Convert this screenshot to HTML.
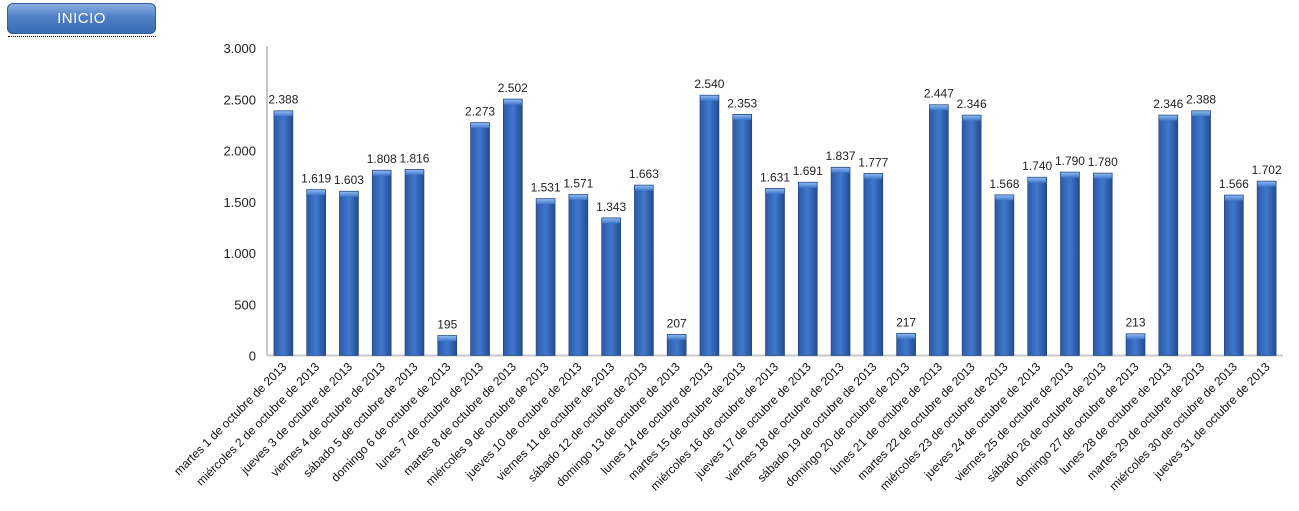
<!DOCTYPE html>
<html><head><meta charset="utf-8"><style>
body{margin:0;width:1299px;height:511px;background:#fff;overflow:hidden;font-family:"Liberation Sans",sans-serif}
#btn{position:absolute;left:7px;top:3px;width:149px;height:31px;border-radius:6px;background:linear-gradient(#8fb4e6,#4f7fc4 45%,#3a6cb4);box-shadow:inset 0 0 0 1px #2f5e9f;color:#fff;font-size:15px;text-align:center;line-height:31px;letter-spacing:.5px}
#btnline{position:absolute;left:8px;top:36px;width:148px;border-top:1px dotted #000}
</style></head><body>
<div id="btn">INICIO</div>
<div id="btnline"></div>
<svg id="c" width="1299" height="511" style="position:absolute;left:0;top:0">
<defs><linearGradient id="g" x1="0" x2="1"><stop offset="0" stop-color="#2c5aa6"/><stop offset=".5" stop-color="#3f78cc"/><stop offset="1" stop-color="#244c90"/></linearGradient>
<linearGradient id="gt" x1="0" y1="0" x2="0" y2="1"><stop offset="0" stop-color="#8fb8ee"/><stop offset="1" stop-color="#3f78cc"/></linearGradient></defs>
</svg>
<script>
const categories=["martes 1 de octubre de 2013","miércoles 2 de octubre de 2013","jueves 3 de octubre de 2013","viernes 4 de octubre de 2013","sábado 5 de octubre de 2013","domingo 6 de octubre de 2013","lunes 7 de octubre de 2013","martes 8 de octubre de 2013","miércoles 9 de octubre de 2013","jueves 10 de octubre de 2013","viernes 11 de octubre de 2013","sábado 12 de octubre de 2013","domingo 13 de octubre de 2013","lunes 14 de octubre de 2013","martes 15 de octubre de 2013","miércoles 16 de octubre de 2013","jueves 17 de octubre de 2013","viernes 18 de octubre de 2013","sábado 19 de octubre de 2013","domingo 20 de octubre de 2013","lunes 21 de octubre de 2013","martes 22 de octubre de 2013","miércoles 23 de octubre de 2013","jueves 24 de octubre de 2013","viernes 25 de octubre de 2013","sábado 26 de octubre de 2013","domingo 27 de octubre de 2013","lunes 28 de octubre de 2013","martes 29 de octubre de 2013","miércoles 30 de octubre de 2013","jueves 31 de octubre de 2013"];
const values=[2388,1619,1603,1808,1816,195,2273,2502,1531,1571,1343,1663,207,2540,2353,1631,1691,1837,1777,217,2447,2346,1568,1740,1790,1780,213,2346,2388,1566,1702];
const yTicks=[0,500,1000,1500,2000,2500,3000];
const svg=document.getElementById('c');const NS='http://www.w3.org/2000/svg';
const X0=267,X1=1283,Y0=355.5,Y1=48,YMAX=3000;
const slot=(X1-X0)/categories.length;
const y=v=>Y0-(v/YMAX)*(Y0-Y1);
const xc=i=>X0+slot*(i+0.5);
const fmt=v=>v>=1000?Math.floor(v/1000)+'.'+String(v%1000).padStart(3,'0'):String(v);
function mk(t,a){const e=document.createElementNS(NS,t);for(const k in a)e.setAttribute(k,a[k]);svg.appendChild(e);return e;}
let ax=mk('line',{x1:X0,y1:Y1-2,x2:X0,y2:Y0,stroke:'#c8c8c8','stroke-width':2});


let bx=mk('line',{x1:X0,y1:Y0,x2:X1,y2:Y0,stroke:'#c8c8c8','stroke-width':2});


yTicks.forEach(t=>{const e=mk('text',{x:X0-11,y:y(t)+5,'text-anchor':'end','font-size':13,fill:'#222'});e.textContent=fmt(t);

});
values.forEach((v,i)=>{const bw=19,x=xc(i)-bw/2,top=y(v);
const r=mk('rect',{x:x,y:top,width:bw,height:Y0-top,fill:'url(#g)',stroke:'#1d3f7a','stroke-width':.6});


const tp=mk('rect',{x:x+.5,y:top+.5,width:bw-1,height:5,fill:'url(#gt)'});


const l=mk('text',{x:xc(i),y:top-7,'text-anchor':'middle','font-size':12,fill:'#222'});l.textContent=fmt(v);


const c=mk('text',{x:xc(i)+4,y:Y0+12,'text-anchor':'end','font-size':12,fill:'#111',transform:`rotate(-45 ${xc(i)+4} ${Y0+12})`});c.textContent=categories[i];

});
</script>
</body></html>
